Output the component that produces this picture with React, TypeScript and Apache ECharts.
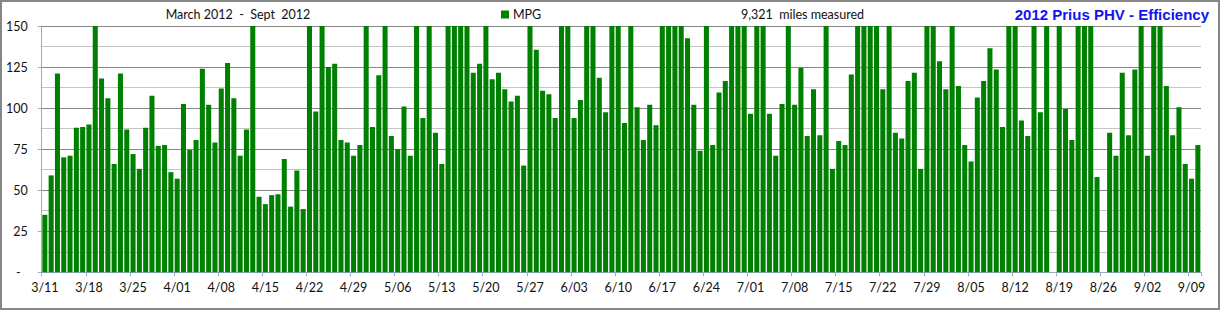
import React, { useEffect, useRef } from "react";
import * as echarts from "echarts";

const dates: string[] = (
  "3/11 3/12 3/13 3/14 3/15 3/16 3/17 3/18 3/19 3/20 3/21 3/22 3/23 3/24 3/25 3/26 3/27 3/28 3/29 3/30 3/31 " +
  "4/01 4/02 4/03 4/04 4/05 4/06 4/07 4/08 4/09 4/10 4/11 4/12 4/13 4/14 4/15 4/16 4/17 4/18 4/19 4/20 4/21 4/22 4/23 4/24 4/25 4/26 4/27 4/28 4/29 4/30 " +
  "5/01 5/02 5/03 5/04 5/05 5/06 5/07 5/08 5/09 5/10 5/11 5/12 5/13 5/14 5/15 5/16 5/17 5/18 5/19 5/20 5/21 5/22 5/23 5/24 5/25 5/26 5/27 5/28 5/29 5/30 5/31 " +
  "6/01 6/02 6/03 6/04 6/05 6/06 6/07 6/08 6/09 6/10 6/11 6/12 6/13 6/14 6/15 6/16 6/17 6/18 6/19 6/20 6/21 6/22 6/23 6/24 6/25 6/26 6/27 6/28 6/29 6/30 " +
  "7/01 7/02 7/03 7/04 7/05 7/06 7/07 7/08 7/09 7/10 7/11 7/12 7/13 7/14 7/15 7/16 7/17 7/18 7/19 7/20 7/21 7/22 7/23 7/24 7/25 7/26 7/27 7/28 7/29 7/30 7/31 " +
  "8/01 8/02 8/03 8/04 8/05 8/06 8/07 8/08 8/09 8/10 8/11 8/12 8/13 8/14 8/15 8/16 8/17 8/18 8/19 8/20 8/21 8/22 8/23 8/24 8/25 8/26 8/27 8/28 8/29 8/30 8/31 " +
  "9/01 9/02 9/03 9/04 9/05 9/06 9/07 9/08 9/09 9/10"
).split(" ");

// MPG per day (bars above 150 are clipped at the axis maximum)
const mpg: (number | null)[] = [
  // March 11-31
  35, 59, 121, 70, 71, 88, 88.5, 90, 150, 118, 106, 66, 121, 87, 72, 63, 88, 107.5, 77, 77.5, 61,
  // April
  57, 102.5, 74.5, 80.5, 124, 102, 79, 112, 127.5, 106, 71, 87, 150, 46, 41.5, 47, 47.5, 69, 40, 62,
  38.5, 150, 98, 150, 125, 127, 80.5, 79, 71, 77.5,
  // May
  150, 88.5, 120, 150, 83, 75, 101, 71, 150, 94, 150, 85, 66, 150, 150, 150, 150, 121.5, 127, 150,
  117.5, 121.5, 111.5, 104, 107.5, 65, 150, 135.5, 110.5, 108.5, 94,
  // June
  150, 150, 94, 105, 150, 150, 118.5, 97.5, 150, 150, 91, 150, 100.5, 80.5, 102, 89.5, 150, 150, 150, 150,
  142.5, 102, 74, 150, 77.5, 109.5, 116.5, 150, 150, 150,
  // July
  96.5, 150, 150, 96.5, 71, 102.5, 150, 102, 124.5, 83, 111.5, 83.5, 150, 63, 80, 77.5, 120.5, 150, 150, 150,
  150, 111.5, 150, 85, 81.5, 116.5, 121.5, 63, 150, 150, 128.5,
  // August
  111.5, 150, 113.5, 77.5, 67.5, 106.5, 116.5, 136.5, 123.5, 88.5, 150, 150, 92.5, 83, 150, 97.5, 150, null, 150, 99.5,
  80.5, 150, 150, 150, 58, null, 85, 71, 121.5, 83.5, 123.5,
  // September 1-10
  150, 71, 150, 150, 113.5, 83.5, 100.5, 66, 57, 77.5,
];

const yMin = 0;
const yMax = 150;
const yStep = 25;

const periodText = "March 2012\u00a0\u00a0-\u00a0\u00a0Sept\u00a0\u00a02012";
const milesText = "9,321\u00a0\u00a0miles measured";
const titleText = "2012 Prius PHV - Efficiency";
const seriesName = "MPG";

const labelFont = "Lato, 'Open Sans', sans-serif";

export default function App() {
  const ref = useRef<HTMLDivElement>(null);

  useEffect(() => {
    if (!ref.current) return;
    const chart = echarts.init(ref.current, null, { renderer: "svg" });
    chart.setOption({
      animation: false,
      backgroundColor: "#ffffff",
      grid: { left: 41.7, right: 19, top: 26, bottom: 37.7, containLabel: false },
      legend: {
        data: [seriesName],
        left: 501,
        top: 8,
        padding: 0,
        icon: "rect",
        itemWidth: 8,
        itemHeight: 8,
        itemGap: 0,
        selectedMode: false,
        textStyle: { fontFamily: labelFont, fontSize: 12.5, color: "#111111", padding: [0, 0, 0, -1] },
      },
      graphic: [
        {
          type: "rect",
          silent: true,
          shape: { x: 1, y: 1, width: 1218, height: 308 },
          style: { fill: "none", stroke: "#868686", lineWidth: 2 },
          z: 100,
        },
        {
          type: "text",
          x: 238,
          y: 14,
          style: {
            text: periodText,
            fontFamily: labelFont,
            fontSize: 12.5,
            fill: "#111111",
            textAlign: "center",
            textVerticalAlign: "middle",
          },
        },
        {
          type: "text",
          x: 741,
          y: 14,
          style: {
            text: milesText,
            fontFamily: labelFont,
            fontSize: 12.5,
            fill: "#111111",
            textAlign: "left",
            textVerticalAlign: "middle",
          },
        },
        {
          type: "text",
          x: 1209,
          y: 14,
          style: {
            text: titleText,
            fontFamily: "'Liberation Sans', Arial, sans-serif",
            fontWeight: "bold",
            fontSize: 15,
            fill: "#1414ee",
            textAlign: "right",
            textVerticalAlign: "middle",
          },
        },
      ],
      xAxis: {
        type: "category",
        data: dates,
        boundaryGap: true,
        axisLine: { show: true, lineStyle: { color: "#9aabcc", width: 1 } },
        axisTick: { show: true, interval: 6, length: 4, lineStyle: { color: "#9aabcc" } },
        axisLabel: {
          interval: 6,
          margin: 9,
          fontFamily: labelFont,
          fontSize: 12.5,
          color: "#111111",
        },
        splitLine: { show: false },
      },
      yAxis: {
        type: "value",
        min: yMin,
        max: yMax,
        interval: yStep,
        axisLine: { show: true, lineStyle: { color: "#9aabcc" } },
        axisTick: { show: true, length: 4, lineStyle: { color: "#9aabcc" } },
        axisLabel: {
          margin: 14,
          fontFamily: labelFont,
          fontSize: 12.5,
          color: "#111111",
          formatter: (v: number) => (v === 0 ? "{d|-}" : String(v)),
          rich: { d: { fontFamily: labelFont, fontSize: 12.5, color: "#111111", padding: [0, 7, 0, 0] } },
        },
        splitLine: { show: true, lineStyle: { color: "#878787", width: 1 } },
        minorTick: { show: false, splitNumber: 2 },
        minorSplitLine: { show: true, lineStyle: { color: "#c4c4c4", width: 1 } },
      },
      series: [
        {
          name: seriesName,
          type: "bar",
          data: mpg,
          barCategoryGap: "20%",
          itemStyle: { color: "#008000" },
          clip: true,
        },
      ],
    });
    return () => chart.dispose();
  }, []);

  return (
    <div
      ref={ref}
      style={{ position: "fixed", left: 0, top: 0, width: 1220, height: 310, background: "#ffffff" }}
    />
  );
}
